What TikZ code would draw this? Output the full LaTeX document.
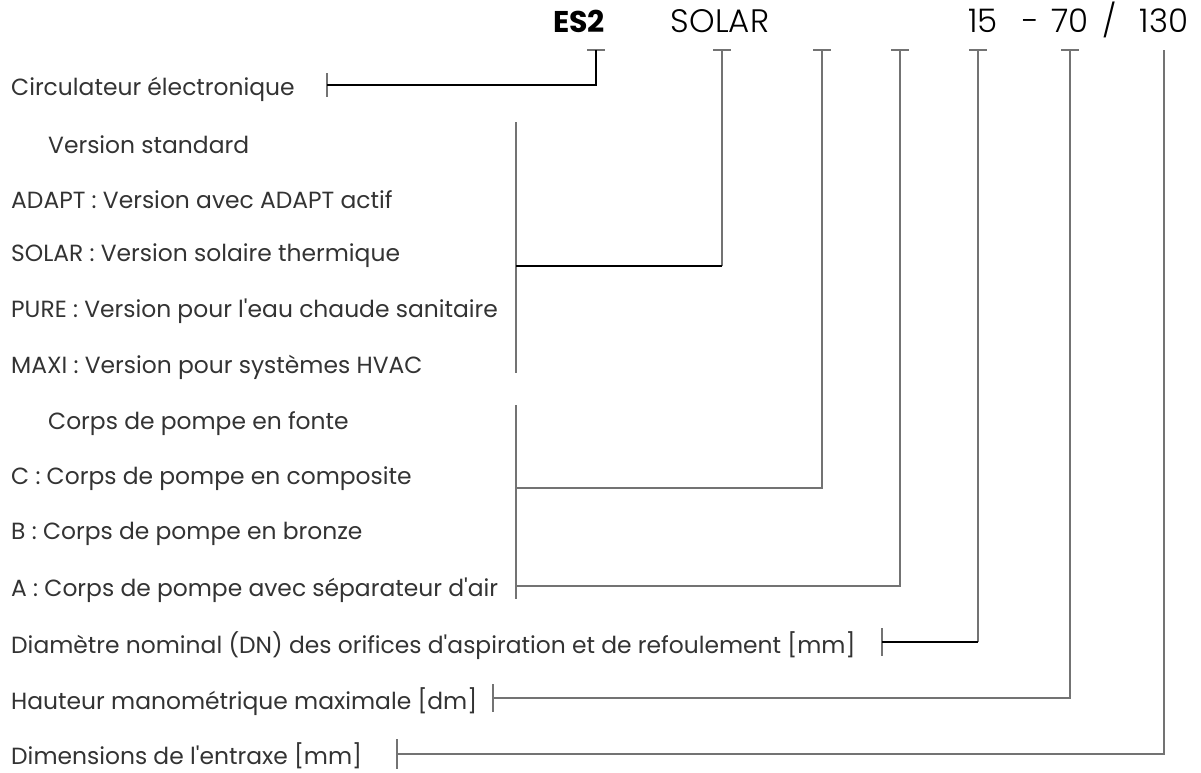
\documentclass[tikz,border=0pt]{standalone}
\usepackage{fontspec}
\setmainfont{Poppins}[Ligatures=TeXOff]
\newfontfamily\hdrfont{Poppins Light}[Ligatures=TeXOff]
\begin{document}
\begin{tikzpicture}[x=1pt,y=-1pt,
    lbl/.style={anchor=west,text=black!80,inner sep=0pt,font=\fontsize{23.4}{23.4}\selectfont},
    hdr/.style={anchor=base,inner sep=0pt,font=\hdrfont\fontsize{32.5}{32.5}\selectfont},
    gline/.style={draw=black!55,line width=1.2pt},
    kline/.style={draw=black,line width=1.2pt}]
  \useasboundingbox (0,0) rectangle (1201,772);
  % type code
  \node[hdr,font=\fontsize{30}{30}\selectfont\bfseries] (es) at (579,32) {ES2};
  \node[hdr] (sol) at (720,32) {SOLAR};
  \node[hdr] (dn) at (983,32) {15};
  \node[hdr] (d1) at (1031,32) {-};
  \node[hdr] (hm) at (1070,32) {70};
  \node[hdr] (d2) at (1110,32) {/};
  \node[hdr] (ia) at (1164,32) {130};
  % labels
  \node[lbl] (l1) at (11,89) {Circulateur électronique};
  \node[lbl] (l2) at (48,145) {Version standard};
  \node[lbl] (l3) at (11,200) {ADAPT : Version avec ADAPT actif};
  \node[lbl] (l4) at (11,256) {SOLAR : Version solaire thermique};
  \node[lbl] (l5) at (11,311) {PURE : Version pour l'eau chaude sanitaire};
  \node[lbl] (l6) at (11,367) {MAXI : Version pour systèmes HVAC};
  \node[lbl] (l7) at (48,424) {Corps de pompe en fonte};
  \node[lbl] (l8) at (11,479) {C : Corps de pompe en composite};
  \node[lbl] (l9) at (11,534) {B : Corps de pompe en bronze};
  \node[lbl] (l10) at (11,590) {A : Corps de pompe avec séparateur d'air};
  \node[lbl] (l11) at (11,646) {Diamètre nominal (DN) des orifices d'aspiration et de refoulement [mm]};
  \node[lbl] (l12) at (11,702) {Hauteur manométrique maximale [dm]};
  \node[lbl] (l13) at (11,756) {Dimensions de l'entraxe [mm]};
  % tops of the leaders
  \coordinate (t1) at (596,50);
  \coordinate (t2) at (722,50);
  \coordinate (t3) at (822,50);
  \coordinate (t4) at (900,50);
  \coordinate (t5) at (978,50);
  \coordinate (t6) at (1070,50);
  \coordinate (t7) at (1164,50);
  \foreach \n in {1,...,6}
    \draw[gline] (t\n) ++(-9,0) -- ++(18,0);
  % ends on the left
  \coordinate (e1) at (327,85);
  \coordinate (e2) at (516,266);
  \coordinate (e3) at (516,488);
  \coordinate (e4) at (516,586);
  \coordinate (e5) at (882,642);
  \coordinate (e6) at (493,698);
  \coordinate (e7) at (397,754);
  \foreach \n/\h in {1/12,4/13,5/14,6/14,7/15}
    \draw[gline] (e\n) ++(0,-\h) -- ++(0,2*\h);
  % brackets
  \draw[gline] (516,122) -- (516,373);
  \draw[gline] (516,405) -- (516,597);
  % leaders
  \draw[gline] (t1) |- (e1);
  \draw[kline] (e1) -| (t1);
  \draw[gline] (t2) -- (t2 |- e2);
  \draw[kline] (t2 |- e2) -- (e2);
  \draw[gline] (t3) |- (e3);
  \draw[gline] (t4) |- (e4);
  \draw[gline] (t5) -- (t5 |- e5);
  \draw[kline] (t5 |- e5) -- (e5);
  \draw[gline] (t6) |- (e6);
  \draw[gline] (t7) |- (e7);
\end{tikzpicture}
\end{document}
